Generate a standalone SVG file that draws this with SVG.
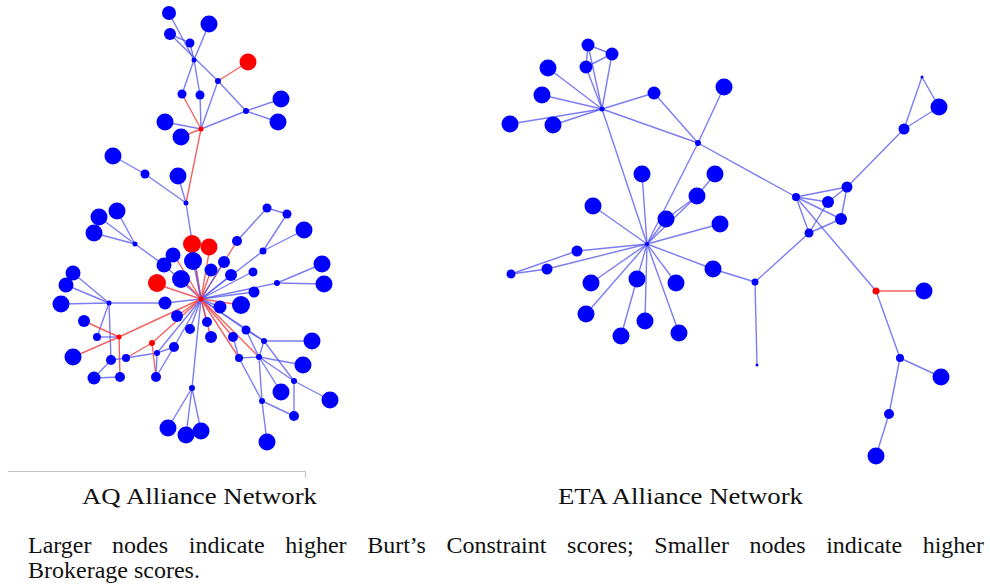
<svg xmlns="http://www.w3.org/2000/svg" width="990" height="587" viewBox="0 0 990 587">
<style>
.e{stroke:#5050f0;stroke-opacity:.75;stroke-width:1.4;fill:none}
.er{stroke:#f04848;stroke-opacity:.85;stroke-width:1.4;fill:none}
.b{fill:#0000ff}
.r{fill:#ff0000}
.t{font-family:"Liberation Serif","Times New Roman",serif;fill:#111}
</style>
<rect width="990" height="587" fill="#fff"/>

<!-- AQ network connectors -->
<g id="aq-edges">
<line class="e" x1="169" y1="13" x2="194" y2="60"/>
<line class="e" x1="170" y1="34" x2="190" y2="43"/>
<line class="e" x1="170" y1="34" x2="218" y2="81"/>
<line class="e" x1="218" y1="81" x2="246" y2="111"/>
<line class="e" x1="190" y1="43" x2="194" y2="60"/>
<line class="e" x1="209" y1="24" x2="194" y2="60"/>
<line class="e" x1="194" y1="60" x2="182" y2="94"/>
<line class="e" x1="194" y1="60" x2="200" y2="95"/>
<line class="e" x1="200" y1="95" x2="201" y2="129"/>
<line class="er" x1="182" y1="94" x2="201" y2="129"/>
<line class="e" x1="218" y1="81" x2="201" y2="129"/>
<line class="er" x1="218" y1="81" x2="248" y2="62"/>
<line class="e" x1="246" y1="111" x2="281" y2="99"/>
<line class="e" x1="246" y1="111" x2="278" y2="122"/>
<line class="e" x1="246" y1="111" x2="201" y2="129"/>
<line class="e" x1="165" y1="122" x2="201" y2="129"/>
<line class="er" x1="181" y1="137" x2="201" y2="129"/>
<line class="er" x1="201" y1="129" x2="186" y2="203"/>
<line class="e" x1="113" y1="156" x2="145" y2="174"/>
<line class="e" x1="145" y1="174" x2="186" y2="203"/>
<line class="e" x1="178" y1="176" x2="186" y2="203"/>
<line class="e" x1="186" y1="203" x2="201" y2="299"/>
<line class="e" x1="135" y1="244" x2="117" y2="211"/>
<line class="e" x1="135" y1="244" x2="99" y2="217"/>
<line class="e" x1="135" y1="244" x2="94" y2="233"/>
<line class="e" x1="135" y1="244" x2="164" y2="265"/>
<line class="e" x1="164" y1="265" x2="201" y2="299"/>
<line class="e" x1="267" y1="208" x2="287" y2="214"/>
<line class="e" x1="267" y1="208" x2="237" y2="241"/>
<line class="e" x1="287" y1="214" x2="263" y2="251"/>
<line class="e" x1="263" y1="251" x2="304" y2="230"/>
<line class="e" x1="263" y1="251" x2="201" y2="299"/>
<line class="e" x1="277" y1="283" x2="322" y2="264"/>
<line class="e" x1="277" y1="283" x2="324" y2="284"/>
<line class="e" x1="277" y1="283" x2="201" y2="299"/>
<line class="er" x1="192" y1="244" x2="201" y2="299"/>
<line class="er" x1="210" y1="247" x2="201" y2="299"/>
<line class="er" x1="156" y1="284" x2="201" y2="299"/>
<line class="er" x1="237" y1="241" x2="201" y2="299"/>
<line class="er" x1="174" y1="255" x2="201" y2="299"/>
<line class="er" x1="182" y1="279" x2="201" y2="299"/>
<line class="e" x1="193" y1="261" x2="201" y2="299"/>
<line class="e" x1="224" y1="262" x2="201" y2="299"/>
<line class="er" x1="211" y1="270" x2="201" y2="299"/>
<line class="e" x1="231" y1="275" x2="201" y2="299"/>
<line class="e" x1="252" y1="272" x2="201" y2="299"/>
<line class="e" x1="254" y1="292" x2="201" y2="299"/>
<line class="er" x1="241" y1="305" x2="201" y2="299"/>
<line class="e" x1="220" y1="307" x2="201" y2="299"/>
<line class="e" x1="109" y1="303" x2="165" y2="303"/>
<line class="e" x1="165" y1="303" x2="201" y2="299"/>
<line class="er" x1="177" y1="316" x2="201" y2="299"/>
<line class="e" x1="190" y1="329" x2="201" y2="299"/>
<line class="e" x1="207" y1="322" x2="201" y2="299"/>
<line class="er" x1="211" y1="338" x2="201" y2="299"/>
<line class="er" x1="119" y1="337" x2="201" y2="299"/>
<line class="er" x1="152" y1="343" x2="201" y2="299"/>
<line class="e" x1="174" y1="347" x2="201" y2="299"/>
<line class="e" x1="157" y1="353" x2="201" y2="299"/>
<line class="e" x1="192" y1="388" x2="201" y2="299"/>
<line class="er" x1="233" y1="337" x2="201" y2="299"/>
<line class="e" x1="246" y1="330" x2="201" y2="299"/>
<line class="e" x1="264" y1="341" x2="201" y2="299"/>
<line class="er" x1="239" y1="358" x2="201" y2="299"/>
<line class="er" x1="259" y1="357" x2="201" y2="299"/>
<line class="e" x1="109" y1="303" x2="73" y2="273"/>
<line class="e" x1="109" y1="303" x2="66" y2="285"/>
<line class="e" x1="109" y1="303" x2="61" y2="304"/>
<line class="e" x1="109" y1="303" x2="97" y2="337"/>
<line class="e" x1="109" y1="303" x2="111" y2="360"/>
<line class="er" x1="84" y1="321" x2="119" y2="337"/>
<line class="e" x1="97" y1="337" x2="119" y2="337"/>
<line class="er" x1="119" y1="337" x2="73" y2="357"/>
<line class="er" x1="119" y1="337" x2="120" y2="377"/>
<line class="e" x1="126" y1="358" x2="157" y2="353"/>
<line class="e" x1="111" y1="360" x2="126" y2="358"/>
<line class="e" x1="94" y1="378" x2="120" y2="377"/>
<line class="e" x1="94" y1="378" x2="111" y2="360"/>
<line class="er" x1="152" y1="343" x2="126" y2="358"/>
<line class="er" x1="152" y1="343" x2="156" y2="377"/>
<line class="e" x1="157" y1="353" x2="174" y2="347"/>
<line class="e" x1="157" y1="353" x2="156" y2="377"/>
<line class="e" x1="156" y1="377" x2="174" y2="347"/>
<line class="e" x1="192" y1="388" x2="168" y2="428"/>
<line class="e" x1="192" y1="388" x2="186" y2="435"/>
<line class="e" x1="192" y1="388" x2="201" y2="431"/>
<line class="e" x1="246" y1="330" x2="264" y2="341"/>
<line class="e" x1="246" y1="330" x2="259" y2="357"/>
<line class="e" x1="233" y1="337" x2="239" y2="358"/>
<line class="e" x1="264" y1="341" x2="312" y2="341"/>
<line class="e" x1="264" y1="341" x2="294" y2="381"/>
<line class="e" x1="264" y1="341" x2="259" y2="357"/>
<line class="e" x1="239" y1="358" x2="259" y2="357"/>
<line class="e" x1="239" y1="358" x2="262" y2="401"/>
<line class="e" x1="259" y1="357" x2="303" y2="365"/>
<line class="e" x1="259" y1="357" x2="281" y2="392"/>
<line class="e" x1="259" y1="357" x2="294" y2="381"/>
<line class="e" x1="294" y1="381" x2="330" y2="400"/>
<line class="e" x1="259" y1="357" x2="262" y2="401"/>
<line class="e" x1="294" y1="381" x2="294" y2="416"/>
<line class="e" x1="262" y1="401" x2="294" y2="416"/>
<line class="e" x1="262" y1="401" x2="267" y2="442"/>
</g>

<!-- ETA network connectors -->
<g id="eta-edges">
<line class="e" x1="602" y1="109" x2="588" y2="45"/>
<line class="e" x1="602" y1="109" x2="586" y2="67"/>
<line class="e" x1="602" y1="109" x2="612" y2="54"/>
<line class="e" x1="588" y1="45" x2="612" y2="54"/>
<line class="e" x1="586" y1="67" x2="612" y2="54"/>
<line class="e" x1="588" y1="45" x2="586" y2="67"/>
<line class="e" x1="602" y1="109" x2="548" y2="68"/>
<line class="e" x1="602" y1="109" x2="542" y2="95"/>
<line class="e" x1="602" y1="109" x2="510" y2="124"/>
<line class="e" x1="602" y1="109" x2="553" y2="125"/>
<line class="e" x1="602" y1="109" x2="654" y2="93"/>
<line class="e" x1="602" y1="109" x2="698" y2="143"/>
<line class="e" x1="602" y1="109" x2="647" y2="244"/>
<line class="e" x1="654" y1="93" x2="698" y2="143"/>
<line class="e" x1="724" y1="87" x2="698" y2="143"/>
<line class="e" x1="698" y1="143" x2="647" y2="244"/>
<line class="e" x1="698" y1="143" x2="796" y2="197"/>
<line class="e" x1="647" y1="244" x2="642" y2="174"/>
<line class="e" x1="647" y1="244" x2="666" y2="219"/>
<line class="e" x1="647" y1="244" x2="697" y2="196"/>
<line class="e" x1="666" y1="219" x2="697" y2="196"/>
<line class="e" x1="697" y1="196" x2="715" y2="174"/>
<line class="e" x1="647" y1="244" x2="593" y2="206"/>
<line class="e" x1="647" y1="244" x2="720" y2="224"/>
<line class="e" x1="647" y1="244" x2="577" y2="251"/>
<line class="e" x1="647" y1="244" x2="547" y2="269"/>
<line class="e" x1="577" y1="251" x2="511" y2="274"/>
<line class="e" x1="547" y1="269" x2="511" y2="274"/>
<line class="e" x1="647" y1="244" x2="591" y2="283"/>
<line class="e" x1="647" y1="244" x2="637" y2="279"/>
<line class="e" x1="647" y1="244" x2="676" y2="283"/>
<line class="e" x1="647" y1="244" x2="713" y2="269"/>
<line class="e" x1="713" y1="269" x2="755" y2="282"/>
<line class="e" x1="647" y1="244" x2="586" y2="314"/>
<line class="e" x1="647" y1="244" x2="645" y2="321"/>
<line class="e" x1="637" y1="279" x2="621" y2="336"/>
<line class="e" x1="647" y1="244" x2="679" y2="333"/>
<line class="e" x1="755" y1="282" x2="757" y2="365"/>
<line class="e" x1="755" y1="282" x2="809" y2="233"/>
<line class="e" x1="796" y1="197" x2="828" y2="202"/>
<line class="e" x1="796" y1="197" x2="841" y2="219"/>
<line class="e" x1="796" y1="197" x2="847" y2="187"/>
<line class="e" x1="796" y1="197" x2="809" y2="233"/>
<line class="e" x1="847" y1="187" x2="828" y2="202"/>
<line class="e" x1="847" y1="187" x2="841" y2="219"/>
<line class="e" x1="828" y1="202" x2="809" y2="233"/>
<line class="e" x1="841" y1="219" x2="809" y2="233"/>
<line class="e" x1="847" y1="187" x2="904" y2="129"/>
<line class="e" x1="904" y1="129" x2="922" y2="77"/>
<line class="e" x1="904" y1="129" x2="939" y2="107"/>
<line class="e" x1="922" y1="77" x2="939" y2="107"/>
<line class="e" x1="796" y1="197" x2="876" y2="291"/>
<line class="er" x1="876" y1="291" x2="924" y2="291"/>
<line class="e" x1="876" y1="291" x2="900" y2="358"/>
<line class="e" x1="900" y1="358" x2="941" y2="377"/>
<line class="e" x1="900" y1="358" x2="889" y2="414"/>
<line class="e" x1="889" y1="414" x2="876" y2="456"/>
</g>

<!-- AQ network nodes -->
<g id="aq-1"><circle class="b" cx="169" cy="13" r="7"/></g>
<g id="aq-2"><circle class="b" cx="209" cy="24" r="8.5"/></g>
<g id="aq-3"><circle class="b" cx="170" cy="34" r="6"/></g>
<g id="aq-4"><circle class="b" cx="190" cy="43" r="4.5"/></g>
<g id="aq-5"><circle class="b" cx="194" cy="60" r="2.5"/></g>
<g id="aq-6"><circle class="r" cx="248" cy="62" r="8.5"/></g>
<g id="aq-7"><circle class="b" cx="218" cy="81" r="3"/></g>
<g id="aq-8"><circle class="b" cx="182" cy="94" r="4.5"/></g>
<g id="aq-9"><circle class="b" cx="200" cy="95" r="4.5"/></g>
<g id="aq-10"><circle class="b" cx="281" cy="99" r="8.5"/></g>
<g id="aq-11"><circle class="b" cx="246" cy="111" r="3"/></g>
<g id="aq-12"><circle class="b" cx="278" cy="122" r="8.5"/></g>
<g id="aq-13"><circle class="b" cx="165" cy="122" r="8.5"/></g>
<g id="aq-14"><circle class="r" cx="201" cy="129" r="2.5"/></g>
<g id="aq-15"><circle class="b" cx="181" cy="137" r="8.5"/></g>
<g id="aq-16"><circle class="b" cx="113" cy="156" r="8.5"/></g>
<g id="aq-17"><circle class="b" cx="145" cy="174" r="4.5"/></g>
<g id="aq-18"><circle class="b" cx="178" cy="176" r="8.5"/></g>
<g id="aq-19"><circle class="b" cx="186" cy="203" r="2.5"/></g>
<g id="aq-20"><circle class="b" cx="117" cy="211" r="8.5"/></g>
<g id="aq-21"><circle class="b" cx="99" cy="217" r="8.5"/></g>
<g id="aq-22"><circle class="b" cx="94" cy="233" r="8.5"/></g>
<g id="aq-23"><circle class="b" cx="135" cy="244" r="2.5"/></g>
<g id="aq-24"><circle class="r" cx="192" cy="244" r="9"/></g>
<g id="aq-25"><circle class="r" cx="209" cy="247" r="8.5"/></g>
<g id="aq-26"><circle class="b" cx="267" cy="208" r="4.5"/></g>
<g id="aq-27"><circle class="b" cx="287" cy="214" r="4.5"/></g>
<g id="aq-28"><circle class="b" cx="304" cy="230" r="8.5"/></g>
<g id="aq-29"><circle class="b" cx="237" cy="241" r="5"/></g>
<g id="aq-30"><circle class="b" cx="263" cy="251" r="3.5"/></g>
<g id="aq-31"><circle class="b" cx="322" cy="264" r="8.5"/></g>
<g id="aq-32"><circle class="b" cx="324" cy="284" r="8.5"/></g>
<g id="aq-33"><circle class="b" cx="277" cy="283" r="3"/></g>
<g id="aq-34"><circle class="b" cx="253" cy="272" r="4.5"/></g>
<g id="aq-35"><circle class="b" cx="173" cy="255" r="7.5"/></g>
<g id="aq-36"><circle class="b" cx="193" cy="261" r="9"/></g>
<g id="aq-37"><circle class="b" cx="224" cy="262" r="6"/></g>
<g id="aq-38"><circle class="b" cx="211" cy="270" r="6.5"/></g>
<g id="aq-39"><circle class="b" cx="164" cy="265" r="7.5"/></g>
<g id="aq-40"><circle class="b" cx="231" cy="275" r="6"/></g>
<g id="aq-41"><circle class="b" cx="181" cy="279" r="9"/></g>
<g id="aq-42"><circle class="r" cx="157" cy="283" r="9"/></g>
<g id="aq-43"><circle class="b" cx="254" cy="292" r="5.5"/></g>
<g id="aq-44"><circle class="b" cx="241" cy="305" r="9"/></g>
<g id="aq-45"><circle class="b" cx="220" cy="307" r="6.5"/></g>
<g id="aq-46"><circle class="b" cx="165" cy="303" r="6.5"/></g>
<g id="aq-47"><circle class="b" cx="73" cy="273" r="7.5"/></g>
<g id="aq-48"><circle class="b" cx="66" cy="285" r="7.5"/></g>
<g id="aq-49"><circle class="b" cx="61" cy="304" r="8.5"/></g>
<g id="aq-50"><circle class="b" cx="109" cy="303" r="2.5"/></g>
<g id="aq-51"><circle class="b" cx="84" cy="321" r="6"/></g>
<g id="aq-52"><circle class="b" cx="177" cy="316" r="6"/></g>
<g id="aq-53"><circle class="b" cx="190" cy="329" r="5"/></g>
<g id="aq-54"><circle class="b" cx="207" cy="322" r="5"/></g>
<g id="aq-55"><circle class="b" cx="211" cy="337" r="6"/></g>
<g id="aq-56"><circle class="b" cx="97" cy="337" r="4"/></g>
<g id="aq-57"><circle class="r" cx="119" cy="337" r="2.5"/></g>
<g id="aq-58"><circle class="r" cx="152" cy="343" r="3"/></g>
<g id="aq-59"><circle class="b" cx="174" cy="347" r="5"/></g>
<g id="aq-60"><circle class="b" cx="73" cy="357" r="8.5"/></g>
<g id="aq-61"><circle class="b" cx="111" cy="360" r="5"/></g>
<g id="aq-62"><circle class="b" cx="126" cy="358" r="4"/></g>
<g id="aq-63"><circle class="b" cx="157" cy="353" r="3"/></g>
<g id="aq-64"><circle class="b" cx="94" cy="378" r="6.5"/></g>
<g id="aq-65"><circle class="b" cx="120" cy="377" r="5"/></g>
<g id="aq-66"><circle class="b" cx="156" cy="377" r="5"/></g>
<g id="aq-67"><circle class="b" cx="192" cy="388" r="3"/></g>
<g id="aq-68"><circle class="b" cx="168" cy="428" r="8.5"/></g>
<g id="aq-69"><circle class="b" cx="186" cy="435" r="8.5"/></g>
<g id="aq-70"><circle class="b" cx="201" cy="431" r="8.5"/></g>
<g id="aq-71"><circle class="b" cx="233" cy="337" r="5"/></g>
<g id="aq-72"><circle class="b" cx="246" cy="330" r="4.5"/></g>
<g id="aq-73"><circle class="b" cx="264" cy="341" r="3"/></g>
<g id="aq-74"><circle class="b" cx="239" cy="358" r="4"/></g>
<g id="aq-75"><circle class="b" cx="259" cy="357" r="3"/></g>
<g id="aq-76"><circle class="b" cx="312" cy="341" r="8.5"/></g>
<g id="aq-77"><circle class="b" cx="303" cy="365" r="8.5"/></g>
<g id="aq-78"><circle class="b" cx="294" cy="381" r="3"/></g>
<g id="aq-79"><circle class="b" cx="281" cy="392" r="8.5"/></g>
<g id="aq-80"><circle class="b" cx="262" cy="401" r="3"/></g>
<g id="aq-81"><circle class="b" cx="330" cy="400" r="8.5"/></g>
<g id="aq-82"><circle class="b" cx="294" cy="416" r="5"/></g>
<g id="aq-83"><circle class="b" cx="267" cy="442" r="8.5"/></g>
<g id="aq-hub"><circle class="r" cx="201" cy="299" r="2.5"/></g>

<!-- ETA network nodes -->
<g id="eta-1"><circle class="b" cx="588" cy="45" r="6.5"/></g>
<g id="eta-2"><circle class="b" cx="612" cy="54" r="6.5"/></g>
<g id="eta-3"><circle class="b" cx="586" cy="67" r="6.5"/></g>
<g id="eta-4"><circle class="b" cx="548" cy="68" r="8.5"/></g>
<g id="eta-5"><circle class="b" cx="542" cy="95" r="8.5"/></g>
<g id="eta-6"><circle class="b" cx="510" cy="124" r="8.5"/></g>
<g id="eta-7"><circle class="b" cx="553" cy="125" r="8.5"/></g>
<g id="eta-8"><circle class="b" cx="602" cy="109" r="2.5"/></g>
<g id="eta-9"><circle class="b" cx="654" cy="93" r="6.5"/></g>
<g id="eta-10"><circle class="b" cx="724" cy="87" r="8.5"/></g>
<g id="eta-11"><circle class="b" cx="698" cy="143" r="3"/></g>
<g id="eta-12"><circle class="b" cx="642" cy="174" r="8.5"/></g>
<g id="eta-13"><circle class="b" cx="715" cy="174" r="8.5"/></g>
<g id="eta-14"><circle class="b" cx="697" cy="196" r="8.5"/></g>
<g id="eta-15"><circle class="b" cx="593" cy="206" r="8.5"/></g>
<g id="eta-16"><circle class="b" cx="666" cy="219" r="8.5"/></g>
<g id="eta-17"><circle class="b" cx="720" cy="224" r="8.5"/></g>
<g id="eta-18"><circle class="b" cx="647" cy="244" r="2"/></g>
<g id="eta-19"><circle class="b" cx="577" cy="251" r="5.5"/></g>
<g id="eta-20"><circle class="b" cx="547" cy="269" r="5.5"/></g>
<g id="eta-21"><circle class="b" cx="511" cy="274" r="4.5"/></g>
<g id="eta-22"><circle class="b" cx="591" cy="283" r="8.5"/></g>
<g id="eta-23"><circle class="b" cx="637" cy="279" r="8.5"/></g>
<g id="eta-24"><circle class="b" cx="676" cy="283" r="8.5"/></g>
<g id="eta-25"><circle class="b" cx="713" cy="269" r="8.5"/></g>
<g id="eta-26"><circle class="b" cx="755" cy="282" r="3.5"/></g>
<g id="eta-27"><circle class="b" cx="757" cy="365" r="1.5"/></g>
<g id="eta-28"><circle class="b" cx="586" cy="314" r="8.5"/></g>
<g id="eta-29"><circle class="b" cx="645" cy="321" r="8.5"/></g>
<g id="eta-30"><circle class="b" cx="621" cy="336" r="8.5"/></g>
<g id="eta-31"><circle class="b" cx="679" cy="333" r="8.5"/></g>
<g id="eta-32"><circle class="b" cx="796" cy="197" r="4"/></g>
<g id="eta-33"><circle class="b" cx="828" cy="202" r="6"/></g>
<g id="eta-34"><circle class="b" cx="841" cy="219" r="6"/></g>
<g id="eta-35"><circle class="b" cx="847" cy="187" r="5.5"/></g>
<g id="eta-36"><circle class="b" cx="809" cy="233" r="4.5"/></g>
<g id="eta-37"><circle class="b" cx="904" cy="129" r="5.5"/></g>
<g id="eta-38"><circle class="b" cx="922" cy="77" r="1.5"/></g>
<g id="eta-39"><circle class="b" cx="939" cy="107" r="8.5"/></g>
<g id="eta-40"><circle class="r" cx="876" cy="291" r="3.5"/></g>
<g id="eta-41"><circle class="b" cx="924" cy="291" r="8.5"/></g>
<g id="eta-42"><circle class="b" cx="900" cy="358" r="4"/></g>
<g id="eta-43"><circle class="b" cx="941" cy="377" r="8.5"/></g>
<g id="eta-44"><circle class="b" cx="889" cy="414" r="5"/></g>
<g id="eta-45"><circle class="b" cx="876" cy="456" r="8.5"/></g>

<!-- rule under the left panel -->
<g id="rule">
<path d="M8 471.5H305.5V478" fill="none" stroke="#c4c4c4" stroke-width="1.2"/>
</g>

<!-- labels and caption -->
<g id="labels">
<text class="t" x="82" y="504" font-size="24" textLength="235" lengthAdjust="spacingAndGlyphs">AQ Alliance Network</text>
<text class="t" x="558" y="504" font-size="24" textLength="245" lengthAdjust="spacingAndGlyphs">ETA Alliance Network</text>
<text class="t" x="28" y="553" font-size="24" word-spacing="14.6">Larger nodes indicate higher Burt’s Constraint scores; Smaller nodes indicate higher</text>
<text class="t" x="28" y="578" font-size="24">Brokerage scores.</text>
</g>
</svg>
